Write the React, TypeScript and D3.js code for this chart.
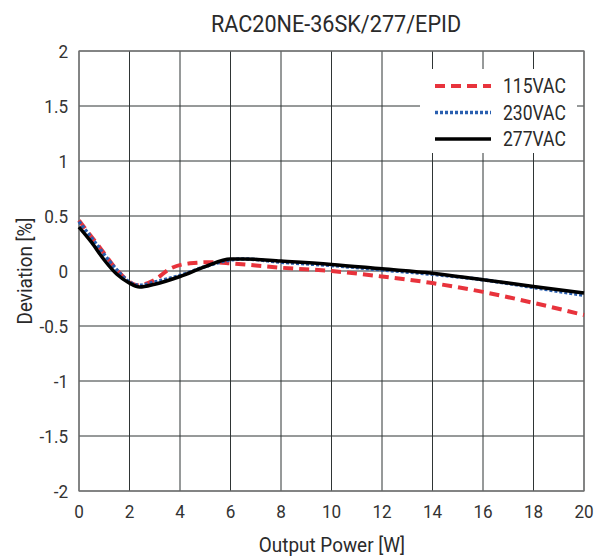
import React from "react";
import * as d3 from "d3";

const title = "RAC20NE-36SK/277/EPID";
const xTicks = [0, 2, 4, 6, 8, 10, 12, 14, 16, 18, 20];
const yTicks = [2, 1.5, 1, 0.5, 0, -0.5, -1, -1.5, -2];

// output power [W]
const power115 = [0, 0.5, 1, 1.5, 2, 2.3, 3, 3.6, 4.4, 5.2, 6, 7, 8, 10, 12, 14, 16, 18, 20];
const dev115 = [0.46, 0.31, 0.16, 0.01, -0.1, -0.13, -0.08, 0.02, 0.07, 0.08, 0.07, 0.05, 0.03, 0.0, -0.05, -0.11, -0.19, -0.29, -0.4];

const power230 = [0, 0.5, 1, 1.5, 2, 2.4, 3, 4, 5, 6, 6.5, 8, 10, 12, 14, 16, 18, 20];
const dev230 = [0.45, 0.3, 0.15, 0.01, -0.1, -0.13, -0.1, -0.04, 0.04, 0.1, 0.11, 0.08, 0.05, 0.01, -0.03, -0.08, -0.15, -0.22];

const power277 = [0, 0.5, 1, 1.5, 2, 2.4, 3, 4, 5, 6, 6.5, 8, 10, 12, 14, 16, 18, 20];
const dev277 = [0.4, 0.26, 0.1, -0.03, -0.11, -0.145, -0.12, -0.05, 0.04, 0.11, 0.11, 0.09, 0.06, 0.02, -0.02, -0.08, -0.14, -0.2];

const series = [
  { name: "115VAC", xs: power115, ys: dev115, color: "#e8333c", width: 4, dash: "10 6" },
  { name: "230VAC", xs: power230, ys: dev230, color: "#2a5fb0", width: 3.5, dash: "3 2" },
  { name: "277VAC", xs: power277, ys: dev277, color: "#000000", width: 3.5, dash: "" },
];

const font = "Roboto, 'Liberation Sans', sans-serif";
const SX = 0.9; // the original type is a bit condensed

function T(props: { x: number; y: number; size: number; anchor?: string; rotate?: boolean; fill?: string; children: any }) {
  const { x, y, size, anchor = "start", rotate = false, fill = "#2a2a2a", children } = props;
  const tr = `translate(${x},${y})${rotate ? " rotate(-90)" : ""} scale(${SX},1)`;
  return (
    <text transform={tr} textAnchor={anchor} fontSize={size} fill={fill}>
      {children}
    </text>
  );
}

export default function App() {
  const W = 595, H = 557;
  const left = 79, right = 584, top = 51, bottom = 491;
  const x = d3.scaleLinear().domain([0, 20]).range([left, right]);
  const y = d3.scaleLinear().domain([-2, 2]).range([bottom, top]);

  const legX = 420, legY = 69;

  return (
    <svg width={W} height={H} style={{ position: "absolute", left: 0, top: 0 }} fontFamily={font}>
      <rect width={W} height={H} fill="#fff" />
      {xTicks.map((t) => (
        <line key={"gx" + t} x1={x(t)} x2={x(t)} y1={top} y2={bottom} stroke="#2f3535" strokeWidth={1} />
      ))}
      {yTicks.map((t) => (
        <line key={"gy" + t} x1={left} x2={right} y1={y(t)} y2={y(t)} stroke="#2f3535" strokeWidth={1} />
      ))}
      <rect x={left} y={top} width={right - left} height={bottom - top} fill="none" stroke="#777" strokeWidth={1.2} />

      {/* legend background */}
      <rect x={legX} y={legY} width={157} height={84} fill="#fff" />

      {series.map((s) => {
        const line = d3
          .line<number>()
          .x((_, i) => x(s.xs[i]))
          .y((d) => y(d))
          .curve(d3.curveMonotoneX);
        return (
          <path
            key={s.name}
            d={line(s.ys) || ""}
            fill="none"
            stroke={s.color}
            strokeWidth={s.width}
            strokeDasharray={s.dash || undefined}
          />
        );
      })}

      {series.map((s, i) => {
        const ly = 86 + i * 26.5;
        return (
          <g key={"leg" + s.name}>
            <line x1={435} x2={491} y1={ly} y2={ly} stroke={s.color} strokeWidth={s.width} strokeDasharray={s.dash || undefined} />
            <T x={503} y={ly + 7} size={19.5}>{s.name}</T>
          </g>
        );
      })}

      {xTicks.map((t) => (
        <T key={"tx" + t} x={x(t)} y={518} size={19} anchor="middle" fill="#333">{t}</T>
      ))}
      {yTicks.map((t) => (
        <T key={"ty" + t} x={68} y={y(t) + 7} size={19} anchor="end" fill="#333">{t}</T>
      ))}

      <T x={336} y={32} size={24} anchor="middle">{title}</T>
      <T x={332} y={552} size={21} anchor="middle">Output Power [W]</T>
      <T x={32} y={(top + bottom) / 2} size={21} anchor="middle" rotate>Deviation [%]</T>
    </svg>
  );
}
